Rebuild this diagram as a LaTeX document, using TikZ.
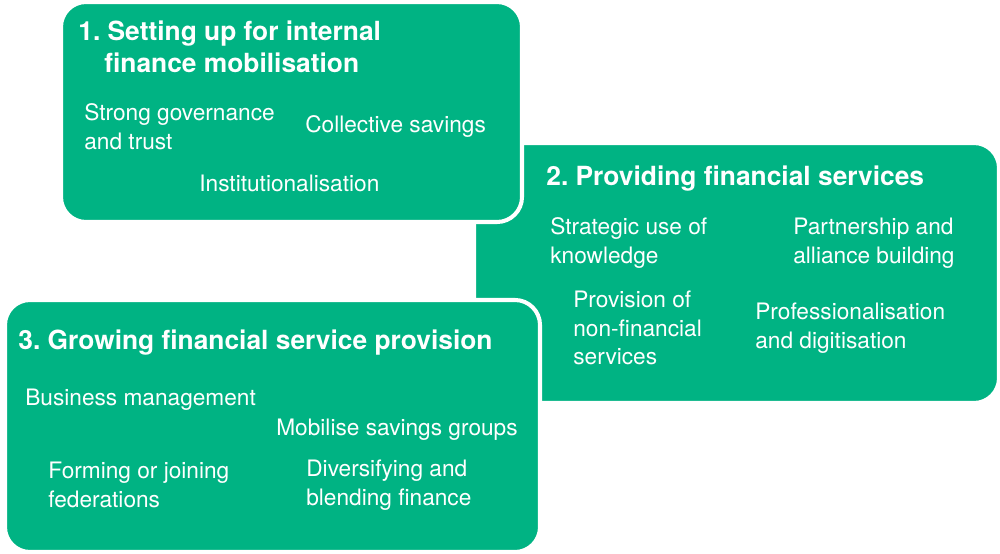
\documentclass[tikz,border=0pt]{standalone}
\usepackage{fontspec}
\setmainfont{TeX Gyre Heros}
\definecolor{panelgreen}{HTML}{00B383}
\frenchspacing

\tikzset{
  panel/.style={fill=panelgreen, draw=white, line width=2.3pt, rounded corners=0.5cm},
  heading/.style={white, anchor=west, align=left, inner sep=0pt,
    font=\bfseries\fontsize{15}{18.2}\selectfont},
  item/.style={white, anchor=west, align=left, inner sep=0pt,
    font=\fontsize{12.9}{16.4}\selectfont}
}

\begin{document}
\begin{tikzpicture}[x=0.02cm, y=-0.02cm]
    \useasboundingbox (0,0) rectangle (1000,554);

    % Panels (2 lies underneath 1 and 3)
    \draw[panel] (474,143) rectangle (999,403);
    \draw[panel] (61,2) rectangle (522,222);
    \draw[panel] (5,300) rectangle (540,552);

    % 1. Internal finance
    \node[heading] (head1) at (78,47) {1. Setting up for internal\\\hspace*{14.8pt}finance mobilisation};
    \node[item] (governance) at (84,127) {Strong governance\\and trust};
    \node[item] (savings) at (305,127) {Collective savings};
    \node[item] (institution) at (199,183) {Institutionalisation};

    % 2. Financial services
    \node[heading] (head2) at (546,179) {2. Providing financial services};
    \node[item] (knowledge) at (550,243) {Strategic use of\\knowledge};
    \node[item] (partnership) at (793,243) {Partnership and\\alliance building};
    \node[item] (nonfinancial) at (573,328) {Provision of\\non-financial\\services};
    \node[item] (digitisation) at (755,328) {Professionalisation\\and digitisation};

    % 3. Service provision
    \node[heading] (head3) at (18,343) {3. Growing financial service provision};
    \node[item] (business) at (25,400) {Business management};
    \node[item] (mobilise) at (276,430) {Mobilise savings groups};
    \node[item] (federations) at (48,485) {Forming or joining\\federations};
    \node[item] (blending) at (306,485) {Diversifying and\\blending finance};
\end{tikzpicture}
\end{document}
